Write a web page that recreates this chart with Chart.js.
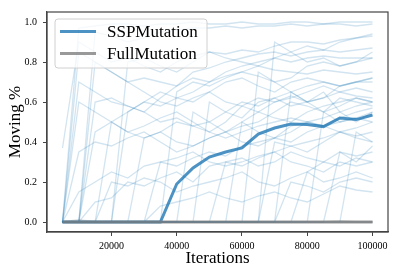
<!DOCTYPE html>
<html>
<head>
<meta charset="utf-8">
<script src="https://cdn.jsdelivr.net/npm/chart.js@4/dist/chart.umd.min.js"></script>
<style>
  html, body { margin: 0; padding: 0; background: #fff; }
  #wrap { width: 399px; height: 275px; }
</style>
</head>
<body>
<div id="wrap"><canvas id="chart" width="399" height="275"></canvas></div>
<script>
const iterations = [5000, 10000, 15000, 20000, 25000, 30000, 35000, 40000, 45000, 50000,
                    55000, 60000, 65000, 70000, 75000, 80000, 85000, 90000, 95000, 100000];
const xTicks = [20000, 40000, 60000, 80000, 100000];
const yTicks = [0, 0.2, 0.4, 0.6, 0.8, 1.0];

const sspMean  = [0, 0, 0, 0, 0, 0, 0, 0.19, 0.27, 0.325, 0.35, 0.37, 0.44, 0.47, 0.49, 0.487, 0.477, 0.52, 0.512, 0.535];
const fullMean = [0, 0, 0, 0, 0, 0, 0, 0, 0, 0, 0, 0, 0, 0, 0, 0, 0, 0, 0, 0];

// individual runs (thin lines)
const sspRuns = [
  [0, 0.97, 0.98, 0.99, 0.99, 0.98, 0.99, 0.99, 1.0, 0.99, 0.99, 1.0, 0.99, 0.99, 1.0, 1.0, 0.99, 1.0, 1.0, 1.0],
  [0, 0, 0.95, 0.93, 0.9, 0.92, 0.95, 0.96, 0.97, 0.97, 0.98, 0.97, 0.98, 0.98, 0.99, 0.98, 0.99, 0.99, 0.98, 0.99],
  [0.37, 0.9, 0.85, 0.8, 0.82, 0.78, 0.75, 0.8, 0.83, 0.85, 0.84, 0.86, 0.85, 0.88, 0.9, 0.9, 0.89, 0.91, 0.92, 0.93],
  [0, 0.85, 0.8, 0.75, 0.7, 0.72, 0.7, 0.68, 0.75, 0.77, 0.8, 0.82, 0.84, 0.85, 0.83, 0.85, 0.86, 0.85, 0.86, 0.87],
  [0, 0, 0, 0, 0.55, 0.6, 0.58, 0.62, 0.65, 0.7, 0.75, 0.78, 0.8, 0.82, 0.8, 0.82, 0.83, 0.82, 0.82, 0.82],
  [0, 0.7, 0.65, 0.6, 0.58, 0.55, 0.62, 0.68, 0.72, 0.7, 0.73, 0.75, 0.78, 0.76, 0.75, 0.74, 0.76, 0.75, 0.74, 0.75],
  [0, 0, 0.6, 0.62, 0.58, 0.55, 0.5, 0.52, 0.48, 0.5, 0.55, 0.6, 0.58, 0.62, 0.65, 0.68, 0.7, 0.68, 0.7, 0.7],
  [0, 0, 0, 0.5, 0.45, 0.48, 0.52, 0.55, 0.5, 0.45, 0.5, 0.58, 0.62, 0.6, 0.63, 0.6, 0.62, 0.65, 0.63, 0.62],
  [0, 0, 0, 0, 0, 0.42, 0.45, 0.4, 0.38, 0.42, 0.45, 0.5, 0.55, 0.52, 0.5, 0.55, 0.58, 0.6, 0.62, 0.6],
  [0, 0.15, 0.2, 0.25, 0.22, 0.28, 0.3, 0.28, 0.32, 0.35, 0.33, 0.38, 0.4, 0.42, 0.4, 0.45, 0.48, 0.5, 0.52, 0.55],
  [0, 0, 0.1, 0.12, 0.2, 0.18, 0.22, 0.25, 0.2, 0.28, 0.3, 0.32, 0.28, 0.3, 0.35, 0.32, 0.3, 0.35, 0.33, 0.35],
  [0, 0, 0, 0, 0, 0, 0, 0.65, 0.7, 0.68, 0.72, 0.75, 0.73, 0.7, 0.72, 0.78, 0.8, 0.78, 0.8, 0.82],
  [0, 0, 0, 0, 0, 0, 0, 0, 0.55, 0.5, 0.45, 0.48, 0.5, 0.55, 0.6, 0.58, 0.55, 0.5, 0.52, 0.5],
  [0, 0, 0, 0, 0, 0, 0.3, 0.32, 0.35, 0.3, 0.28, 0.3, 0.33, 0.35, 0.38, 0.4, 0.42, 0.45, 0.43, 0.45],
  [0, 0, 0, 0, 0, 0, 0, 0, 0, 0.6, 0.55, 0.52, 0.6, 0.62, 0.58, 0.6, 0.65, 0.55, 0.58, 0.6],
  [0, 0, 0, 0, 0, 0, 0, 0, 0, 0, 0.3, 0.28, 0.32, 0.35, 0.3, 0.28, 0.25, 0.3, 0.28, 0.3],
  [0, 0, 0, 0, 0, 0, 0, 0, 0, 0, 0, 0.5, 0.45, 0.42, 0.48, 0.5, 0.52, 0.55, 0.5, 0.55],
  [0, 0, 0, 0, 0, 0, 0, 0, 0, 0, 0, 0, 0.75, 0.7, 0.65, 0.6, 0.62, 0.68, 0.7, 0.72],
  [0, 0, 0, 0, 0, 0, 0, 0, 0, 0, 0, 0, 0, 0.4, 0.38, 0.35, 0.4, 0.45, 0.42, 0.4],
  [0, 0, 0, 0, 0, 0, 0, 0, 0, 0, 0, 0, 0, 0, 0.2, 0.18, 0.15, 0.2, 0.22, 0.2],
  [0, 0, 0, 0, 0, 0, 0, 0, 0, 0, 0, 0, 0, 0, 0, 0, 0.55, 0.62, 0.6, 0.58],
  [0, 0, 0, 0, 0, 0, 0, 0, 0, 0, 0, 0, 0, 0, 0, 0, 0, 0.35, 0.3, 0.38],
  [0, 0, 0, 0, 0, 0, 0, 0, 0, 0, 0, 0, 0, 0, 0, 0, 0, 0, 0.45, 0.4],
  [0, 0, 0, 0.2, 0.18, 0.22, 0.2, 0.15, 0.18, 0.2, 0.22, 0.25, 0.2, 0.18, 0.22, 0.25, 0.2, 0.22, 0.25, 0.22],
  [0, 0, 0, 0, 0, 0, 0.08, 0.1, 0.12, 0.15, 0.12, 0.1, 0.13, 0.15, 0.12, 0.1, 0.14, 0.18, 0.16, 0.15],
  [0, 0, 0, 0, 0.8, 0.82, 0.78, 0.75, 0.8, 0.85, 0.82, 0.8, 0.78, 0.82, 0.85, 0.88, 0.86, 0.9, 0.92, 0.94],
  [0, 0, 0, 0, 0, 0, 0, 0, 0, 0, 0, 0, 0, 0.9, 0.85, 0.8, 0.82, 0.78, 0.8, 0.85],
  [0, 0.35, 0.4, 0.38, 0.42, 0.45, 0.4, 0.35, 0.38, 0.42, 0.45, 0.4, 0.38, 0.42, 0.45, 0.5, 0.48, 0.45, 0.47, 0.5],
  [0, 0, 0.45, 0.5, 0.55, 0.6, 0.65, 0.62, 0.6, 0.65, 0.7, 0.72, 0.68, 0.65, 0.7, 0.72, 0.7, 0.68, 0.7, 0.72],
  [0, 0, 0, 0, 0, 0, 0, 0, 0, 0, 0, 0, 0, 0, 0.65, 0.6, 0.55, 0.58, 0.62, 0.6],
  [0, 0.6, 0.55, 0.5, 0.45, 0.42, 0.45, 0.5, 0.48, 0.45, 0.42, 0.45, 0.48, 0.5, 0.52, 0.5, 0.48, 0.52, 0.55, 0.57],
  [0, 0, 0.8, 0.75, 0.7, 0.65, 0.6, 0.58, 0.62, 0.65, 0.6, 0.58, 0.55, 0.6, 0.62, 0.65, 0.68, 0.65, 0.67, 0.65],
  [0, 0, 0, 0, 0, 0, 0, 0, 0, 0, 0, 0, 0, 0, 0, 0.25, 0.3, 0.28, 0.32, 0.3],
  [0, 0, 0, 0, 0, 0, 0, 0, 0, 0, 0, 0, 0, 0, 0, 0, 0, 0, 0, 0]
];
const fullRuns = [
  [0, 0.01, 0, 0, 0, 0, 0, 0, 0, 0, 0, 0, 0, 0, 0, 0, 0, 0, 0, 0],
  [0, 0, 0, 0, 0, 0, 0, 0, 0, 0, 0, 0, 0, 0, 0, 0, 0, 0.005, 0, 0],
  [0, 0, 0, 0, 0, 0, 0, 0, 0, 0, 0, 0, 0, 0, 0, 0, 0, 0, 0, 0]
];

const blue = 'rgba(31, 119, 180, 0.8)';
const gray = 'rgba(127, 127, 127, 0.8)';
const font = '"Liberation Serif", "DejaVu Serif", serif';

function toPoints(vals) {
  return vals.map((v, i) => ({ x: iterations[i], y: v }));
}

// index 0 is drawn on top, so FullMutation sits above the flat start of SSPMutation
let datasets = [
  { label: 'FullMutation', data: toPoints(fullMean), borderColor: gray, borderWidth: 3 },
  { label: 'SSPMutation', data: toPoints(sspMean), borderColor: blue, borderWidth: 3 }
];
sspRuns.forEach(r => datasets.push({ label: '', data: toPoints(r), borderColor: 'rgba(31, 119, 180, 0.2)', borderWidth: 1.3 }));
fullRuns.forEach(r => datasets.push({ label: '', data: toPoints(r), borderColor: 'rgba(127, 127, 127, 0.25)', borderWidth: 2 }));

// top/right spines
const framePlugin = {
  id: 'frame',
  afterDraw(chart) {
    const { ctx, chartArea: a } = chart;
    ctx.save();
    ctx.strokeStyle = '#444';
    ctx.lineWidth = 1.2;
    ctx.strokeRect(a.left, a.top, a.right - a.left, a.bottom - a.top);
    ctx.restore();
  }
};

// matplotlib-like legend inside the axes
const boxLegend = {
  id: 'boxLegend',
  afterDatasetsDraw(chart) {
    const ctx = chart.ctx;
    const x = 55, y = 19, w = 152, h = 49, r = 3;
    ctx.save();
    ctx.beginPath();
    ctx.roundRect(x, y, w, h, r);
    ctx.fillStyle = 'rgba(255, 255, 255, 0.8)';
    ctx.fill();
    ctx.strokeStyle = '#d0d0d0';
    ctx.lineWidth = 1;
    ctx.stroke();
    ctx.font = '17px ' + font;
    ctx.textBaseline = 'middle';
    ctx.fillStyle = '#000';
    [1, 0].forEach((k, i) => {
      const ds = chart.data.datasets[k];
      const ly = 31.5 + i * 22;
      ctx.beginPath();
      ctx.moveTo(60, ly);
      ctx.lineTo(96, ly);
      ctx.strokeStyle = ds.borderColor;
      ctx.lineWidth = 3;
      ctx.stroke();
      ctx.fillText(ds.label, 107, ly + 1);
    });
    ctx.restore();
  }
};

new Chart(document.getElementById('chart'), {
  type: 'line',
  data: { datasets: datasets },
  options: {
    responsive: false,
    animation: false,
    layout: { padding: { top: 11, right: 11, left: 0, bottom: 0 } },
    elements: { point: { radius: 0 }, line: { tension: 0 } },
    plugins: { legend: { display: false }, tooltip: { enabled: false } },
    scales: {
      x: {
        type: 'linear',
        min: 250,
        max: 104750,
        afterFit: s => { s.height = 43; },
        afterBuildTicks: s => { s.ticks = xTicks.map(v => ({ value: v })); },
        ticks: { color: '#000', font: { family: font, size: 10 }, padding: 4, maxRotation: 0,
                 callback: v => String(v) },
        grid: { drawOnChartArea: false, drawTicks: true, tickLength: 4, tickColor: '#444' },
        border: { display: true, color: '#444', width: 1.2 },
        title: { display: true, text: 'Iterations', color: '#000',
                 font: { family: font, size: 17 }, padding: { top: 0, bottom: 6 } }
      },
      y: {
        min: -0.05,
        max: 1.05,
        afterFit: s => { s.width = 47; },
        afterBuildTicks: s => { s.ticks = yTicks.map(v => ({ value: v })); },
        ticks: { color: '#000', font: { family: font, size: 10 }, padding: 6,
                 callback: v => v.toFixed(1) },
        grid: { drawOnChartArea: false, drawTicks: true, tickLength: 4, tickColor: '#444' },
        border: { display: true, color: '#444', width: 1.2 },
        title: { display: true, text: 'Moving %', color: '#000',
                 font: { family: font, size: 17 }, padding: { top: 5, bottom: 0 } }
      }
    }
  },
  plugins: [framePlugin, boxLegend]
});
</script>
</body>
</html>
